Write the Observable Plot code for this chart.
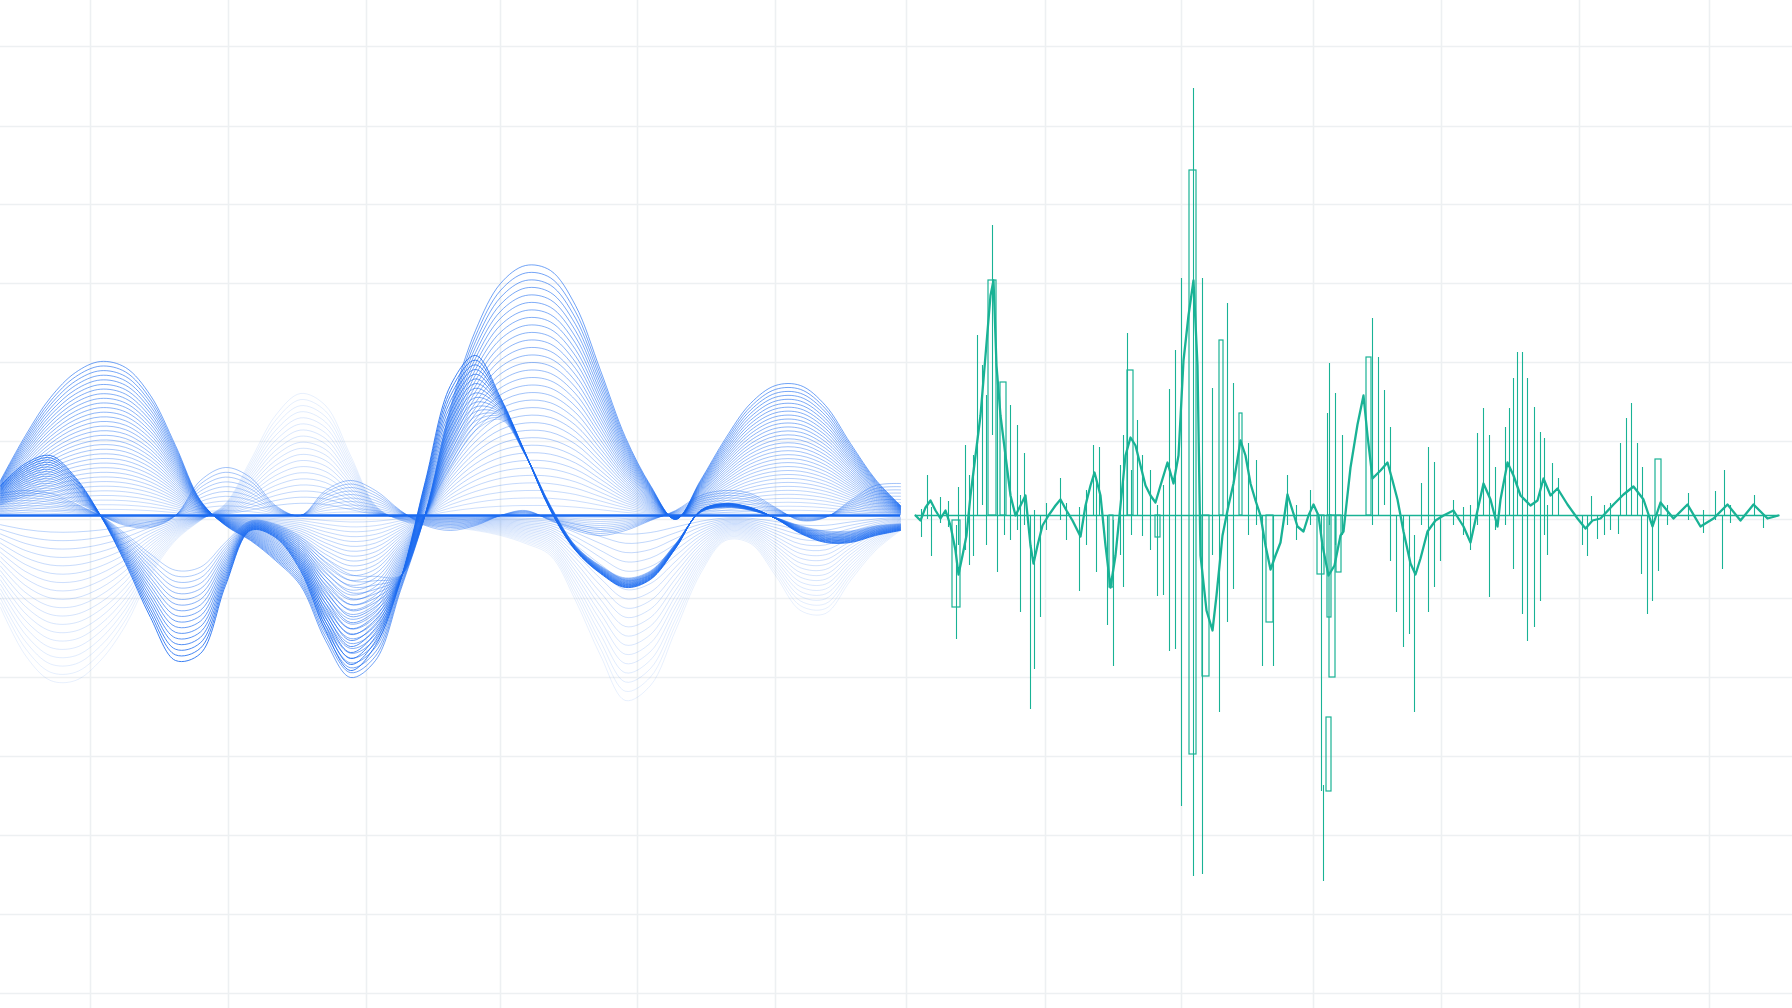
<!DOCTYPE html>
<html><head><meta charset="utf-8">
<script src="https://cdn.jsdelivr.net/npm/d3@7"></script>
<script src="https://cdn.jsdelivr.net/npm/@observablehq/plot@0.6"></script>
<style>html,body{margin:0;padding:0;background:#fff;overflow:hidden}#chart svg{display:block}</style>
</head><body><div id="chart"></div>
<script>
// ---- grid tick positions (px units of the frame; y as offset above the baseline)
const GRID_X = [90,228,366,500,637,775,906,1045,1181,1313,1441,1579,1709];
const GRID_Y = [469,389,311,232,153,74,-4,-83,-162,-241,-320,-399,-478];

// ---- blue wave families, sampled on a shared x grid (values: offset above baseline)
const WAVE_X = [0,25,50,75,100,125,150,175,200,225,250,275,300,325,350,375,400,425,450,475,500,525,550,575,600,625,650,675,700,725,750,775,800,825,850,875,900];
const A_OUTER = [35,80,118,143,154,148,120,70,15,-10,-25,-45,-70,-125,-162,-145,-75,2,108,185,232,250,245,210,145,78,30,-4,35,77,112,130,130,110,72,36,10];
const B_OUTER = [30,52,60,38,0,-48,-102,-145,-138,-70,-15,-22,-55,-115,-155,-130,-65,35,130,160,118,62,5,-35,-58,-72,-64,-33,5,12,8,-3,-18,-27,-27,-20,-15];
const B_INNER = [10,18,21,13,0,-17,-36,-51,-48,-25,-5,-8,-20,-40,-55,-58,-60,0,45,82,95,60,10,-30,-50,-62,-55,-28,3,8,5,-2,-10,-15,-15,-10,-8];
const N_OUTER = [-92,-140,-165,-165,-145,-110,-60,-25,-5,12,55,100,122,110,60,10,-5,-10,-12,-15,-20,-28,-40,-85,-140,-185,-170,-115,-58,-25,-28,-60,-95,-98,-65,-35,-15];
const C_OUTER = [22,25,22,12,0,-10,-12,0,35,48,38,10,0,25,35,25,5,-10,-15,-10,0,5,-5,-15,-20,-15,-5,5,20,25,22,8,-5,-2,15,30,32];

// amplitude fractions of the nested copies in each family
const T_A = [1,0.97,0.94,0.91,0.88,0.85,0.82,0.79,0.76,0.73,0.70,0.67,0.64,0.61,0.58,0.55,0.52,0.49,0.46,0.43,0.40,0.37,0.34,0.31,0.28,0.25,0.22,0.19,0.16,0.13,0.10,0.07,0.04];
const T_B = [1,0.94,0.88,0.82,0.76,0.7,0.64,0.58,0.52,0.46,0.4,0.34,0.28,0.22,0.16,0.1,0.04];
const T_N = [1,0.95,0.9,0.85,0.8,0.75,0.7,0.65,0.6,0.55,0.5,0.45,0.4,0.35,0.3,0.25,0.2,0.15,0.1];
const T_C = [1,0.9,0.8,0.7,0.6,0.5,0.4,0.3,0.2,0.1];

// ---- green trace: [x, value]
const GREEN_TRACE = [[915,0],[920,-5],[925,8],[930,15],[935,5],[940,-3],[945,5],[950,-10],[955,-35],[958,-59],[962,-40],[966,-20],[970,20],[975,60],[980,100],[985,160],[990,220],[993,235],[996,150],[1000,100],[1005,60],[1010,20],[1015,0],[1020,10],[1025,20],[1030,-30],[1033,-48],[1037,-30],[1042,-10],[1048,0],[1055,10],[1060,16],[1066,5],[1072,-5],[1080,-21],[1085,10],[1090,30],[1094,43],[1100,20],[1105,-30],[1110,-72],[1115,-40],[1120,10],[1125,60],[1130,78],[1135,70],[1140,50],[1145,30],[1150,20],[1155,13],[1160,30],[1167,53],[1173,32],[1178,60],[1183,155],[1188,200],[1193,235],[1197,150],[1200,-40],[1206,-95],[1212,-115],[1216,-80],[1222,-20],[1228,10],[1233,32],[1240,75],[1245,60],[1250,32],[1255,15],[1260,0],[1265,-30],[1270,-54],[1275,-40],[1280,-27],[1287,21],[1292,5],[1297,-11],[1303,-16],[1308,0],[1313,11],[1318,0],[1322,-30],[1328,-60],[1334,-50],[1340,-20],[1343,-16],[1350,48],[1357,91],[1363,120],[1367,80],[1372,37],[1380,45],[1387,53],[1392,35],[1397,16],[1403,-16],[1410,-48],[1415,-59],[1420,-43],[1427,-16],[1435,-5],[1443,0],[1453,5],[1463,-11],[1470,-27],[1477,5],[1483,32],[1490,16],[1497,-11],[1500,16],[1507,53],[1513,40],[1520,20],[1530,10],[1537,15],[1543,37],[1550,20],[1557,27],[1567,11],[1577,-3],[1585,-13],[1592,-5],[1600,-3],[1613,11],[1623,21],[1633,29],[1643,16],[1652,-11],[1660,13],[1673,-3],[1687,11],[1700,-11],[1713,-3],[1727,11],[1740,-5],[1753,11],[1767,-3],[1778,0]];

// spikes: [x, low, high]
const SPIKES = [[921,-22,6],[927,-4,40],[931,-41,8],[940,-8,18],[948,-12,14],[956,-124,-10],[958,-30,28],[965,-35,70],[969,-50,40],[973,-41,60],[977,0,180],[982,10,150],[986,-30,120],[992,80,290],[997,-57,140],[1004,-20,70],[1010,-25,110],[1017,-15,90],[1020,-97,20],[1024,-10,62],[1030,-194,0],[1034,-154,5],[1040,-102,0],[1046,-15,12],[1060,-5,37],[1066,-25,12],[1079,-76,8],[1086,-30,25],[1093,0,70],[1096,-57,35],[1099,0,68],[1107,-110,0],[1113,-151,-5],[1120,-40,50],[1123,-72,80],[1127,0,182],[1131,-20,45],[1137,0,95],[1142,-21,60],[1150,-35,45],[1157,-81,10],[1163,-80,30],[1169,-136,126],[1175,-134,165],[1181,-291,237],[1193,-361,427],[1202,-359,237],[1212,-40,127],[1219,-197,0],[1227,-107,212],[1233,-74,132],[1248,-20,72],[1256,-10,55],[1262,-151,0],[1273,-151,0],[1287,-10,40],[1296,-25,10],[1310,-10,25],[1321,-276,0],[1323,-366,-270],[1327,0,102],[1329,-10,152],[1335,-30,122],[1342,-20,80],[1372,-10,197],[1378,0,158],[1384,10,125],[1390,-46,88],[1396,-97,0],[1403,-132,0],[1409,-119,0],[1414,-197,-20],[1421,-10,32],[1428,-97,68],[1434,-72,53],[1440,-46,0],[1453,-10,15],[1463,-20,8],[1470,-35,10],[1477,-10,82],[1483,0,107],[1489,-82,80],[1495,-15,48],[1505,-10,88],[1509,0,107],[1513,-54,137],[1517,0,163],[1522,-99,163],[1527,-126,137],[1534,-112,108],[1540,-86,83],[1544,-20,77],[1547,-40,10],[1552,0,52],[1558,0,37],[1582,-30,0],[1587,-41,0],[1591,-5,19],[1597,-24,0],[1604,-20,10],[1610,-15,12],[1618,-19,0],[1620,0,72],[1626,0,97],[1631,0,112],[1637,0,72],[1641,-59,0],[1642,0,48],[1647,-99,0],[1652,-86,0],[1658,-56,0],[1667,-10,10],[1688,-5,22],[1703,-18,5],[1715,-5,24],[1722,-54,0],[1724,0,45],[1730,-8,10],[1754,0,20],[1763,-13,0]];

// boxes: [x1, x2, low, high]
const BOXES = [[952,960,-92,-5],[988,996,0,235],[1000,1006,0,133],[1109,1113,-72,0],[1127,1133,0,145],[1155,1160,-22,0],[1189,1196,-239,345],[1202,1209,-161,0],[1219,1223,0,175],[1239,1242,0,102],[1266,1273,-107,0],[1317,1324,-59,0],[1326,1331,-276,-202],[1329,1335,-162,0],[1327,1331,-102,0],[1336,1341,-57,0],[1366,1371,0,158],[1655,1661,0,56]];

const BLUE = "#1a6af0";
const GREEN = "#19b295";

function family(name, outer, inner, T, opOuter, opInner) {
  const rows = [];
  T.forEach((t, k) => {
    WAVE_X.forEach((x, i) => {
      const inn = inner ? inner[i] : 0;
      rows.push({z: name + k, x, v: inn + t * (outer[i] - inn), op: opInner + (opOuter - opInner) * t});
    });
  });
  return rows;
}
const famN = family("N", N_OUTER, null, T_N, 0.1, 0.3);
const famC = family("C", C_OUTER, null, T_C, 0.4, 0.2);
const famA = family("A", A_OUTER, null, T_A, 0.62, 0.2);
const famB = family("B", B_OUTER, B_INNER, T_B, 0.85, 0.3);

const trace = GREEN_TRACE.map(([x, v]) => ({x, v}));
const spikes = SPIKES.map(([x, lo, hi]) => ({x, lo, hi}));
const boxes = BOXES.map(([x1, x2, lo, hi]) => ({x1, x2, lo, hi}));
const blueBase = [{v: 0, x1: d3.min(WAVE_X), x2: d3.max(WAVE_X)}];
const greenBase = [{v: 0, x1: d3.min(trace, d => d.x), x2: d3.max(trace, d => d.x)}];

const waveLine = (data) => Plot.line(data, {x: "x", y: "v", z: "z", stroke: BLUE, strokeOpacity: "op", strokeWidth: 1, curve: "catmull-rom"});

const chart = Plot.plot({
  width: 1792, height: 1008,
  marginTop: 0, marginRight: 0, marginBottom: 0, marginLeft: 0,
  x: {domain: [0, 1792], range: [0, 1792], axis: null},
  y: {domain: [-493, 515], range: [1008, 0], axis: null},
  style: {background: "#ffffff"},
  marks: [
    Plot.ruleX(GRID_X, {stroke: "#edf0f2", strokeWidth: 1.6}),
    Plot.ruleY(GRID_Y, {stroke: "#edf0f2", strokeWidth: 1.6}),
    waveLine(famN),
    waveLine(famC),
    waveLine(famA),
    waveLine(famB),
    Plot.ruleY(blueBase, {y: "v", x1: "x1", x2: "x2", stroke: BLUE, strokeWidth: 2.6}),
    Plot.ruleY(greenBase, {y: "v", x1: "x1", x2: "x2", stroke: GREEN, strokeWidth: 1.3}),
    Plot.ruleX(spikes, {x: "x", y1: "lo", y2: "hi", stroke: GREEN, strokeWidth: 1.1}),
    Plot.rect(boxes, {x1: "x1", x2: "x2", y1: "lo", y2: "hi", fill: "none", stroke: GREEN, strokeWidth: 1.2}),
    Plot.line(trace, {x: "x", y: "v", stroke: GREEN, strokeWidth: 2.3, curve: "linear"})
  ]
});
document.getElementById("chart").appendChild(chart);
</script>
</body></html>
